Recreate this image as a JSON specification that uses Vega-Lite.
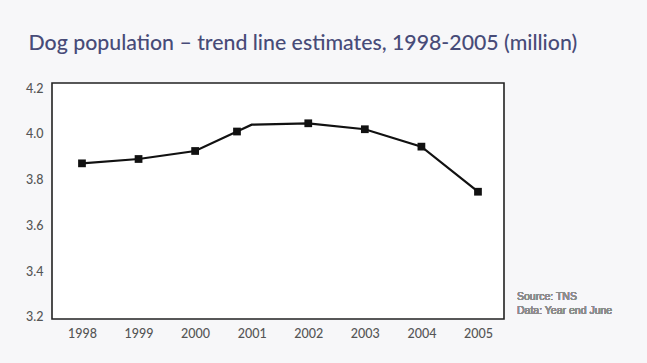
{
  "$schema": "https://vega.github.io/schema/vega-lite/v6.json",
  "autosize": "none",
  "width": 452,
  "height": 236,
  "padding": {"left": 52, "top": 83, "right": 143, "bottom": 44},
  "background": "#f7f7f9",
  "title": {
    "text": "Dog population – trend line estimates, 1998-2005 (million)",
    "anchor": "start",
    "dx": 3,
    "offset": 28,
    "font": "Lato",
    "fontSize": 21.3,
    "fontWeight": 500,
    "color": "#474b78"
  },
  "config": {
    "view": {"stroke": "#222", "strokeWidth": 1.6, "fill": "white"},
    "axis": {"domain": false, "ticks": false, "grid": false, "labelFont": "Lato", "labelFontSize": 12.5, "labelFontWeight": 500, "labelColor": "#555", "title": null}
  },
  "data": {
    "values": [
      {"year": 1998.0, "value": 3.871, "marker": true},
      {"year": 1999.0, "value": 3.89, "marker": true},
      {"year": 2000.0, "value": 3.925, "marker": true},
      {"year": 2000.74, "value": 4.01, "marker": true},
      {"year": 2001.0, "value": 4.04, "marker": false},
      {"year": 2002.0, "value": 4.046, "marker": true},
      {"year": 2003.0, "value": 4.02, "marker": true},
      {"year": 2004.0, "value": 3.944, "marker": true},
      {"year": 2005.0, "value": 3.747, "marker": true}
    ]
  },
  "layer": [
    {
      "mark": {"type": "line", "color": "#111", "strokeWidth": 2.2},
      "encoding": {
        "x": {
          "field": "year", "type": "quantitative",
          "scale": {"domain": [1997.47, 2005.46], "nice": false, "zero": false},
          "axis": {"values": [1998, 1999, 2000, 2001, 2002, 2003, 2004, 2005], "format": "d", "labelPadding": 8}
        },
        "y": {
          "field": "value", "type": "quantitative",
          "scale": {"domain": [3.191, 4.222], "nice": false, "zero": false},
          "axis": {"values": [3.2, 3.4, 3.6, 3.8, 4.0, 4.2], "format": ".1f", "labelPadding": 9}
        }
      }
    },
    {
      "transform": [{"filter": "datum.marker"}],
      "mark": {"type": "square", "color": "#111", "size": 60, "opacity": 1},
      "encoding": {
        "x": {"field": "year", "type": "quantitative"},
        "y": {"field": "value", "type": "quantitative"}
      }
    },
    {
      "mark": {"type": "text", "align": "left", "baseline": "top", "font": "Liberation Sans", "fontSize": 10.5, "fontWeight": "normal", "color": "#8c8c8c", "lineHeight": 14},
      "encoding": {
        "x": {"datum": 2005.69, "type": "quantitative"},
        "y": {"datum": 3.31, "type": "quantitative"},
        "text": {"value": ["Source: TNS", "Data: Year end June"]}
      }
    }
  ]
}
